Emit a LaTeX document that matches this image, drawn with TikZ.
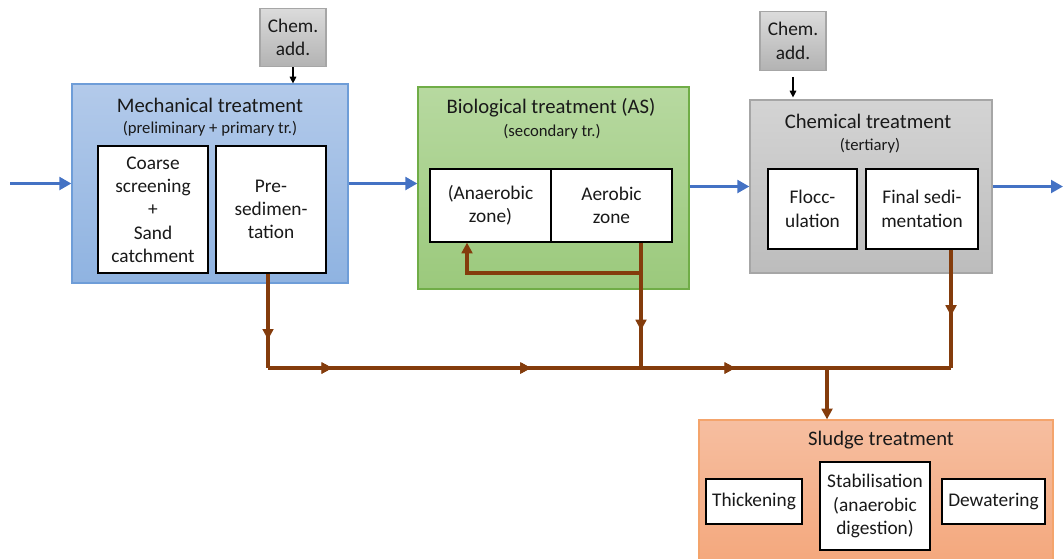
\documentclass[tikz,border=0pt]{standalone}
\usepackage{fontspec}
\setmainfont{Carlito}
\usetikzlibrary{arrows.meta,decorations.markings}

\definecolor{flowblue}{HTML}{4472C4}
\definecolor{sludgebrown}{HTML}{843C0C}
\definecolor{mechtop}{HTML}{B3CAEA}
\definecolor{mechbot}{HTML}{8FB3E1}
\definecolor{mechline}{HTML}{6E9DD8}

\begin{document}
\begin{tikzpicture}[
	x=0.75pt, y=-0.75pt,
	every node/.style={font=\fontsize{14.5}{17.5}\selectfont, text=black!90},
	stage/.style={draw, line width=0.9pt, inner sep=0pt},
	mechbox/.style={stage, draw=mechline, top color=mechtop, bottom color=mechbot},
	biobox/.style={stage, draw={rgb,255:red,112;green,173;blue,71}, top color={rgb,255:red,183;green,217;blue,160}, bottom color={rgb,255:red,155;green,201;blue,124}},
	chembox/.style={stage, draw=black!35, top color=black!17, bottom color=black!26},
	addbox/.style={stage, draw=black!35, top color=black!14, bottom color=black!30, align=center, minimum width=49.5pt, minimum height=44pt},
	sludgebox/.style={stage, draw={rgb,255:red,244;green,164;blue,108}, top color={rgb,255:red,246;green,190;blue,160}, bottom color={rgb,255:red,244;green,166;blue,122}},
	unit/.style={draw, line width=0.9pt, fill=white, align=center, inner sep=1pt},
	title/.style={font=\fontsize{15.5}{18}\selectfont},
	sub/.style={font=\fontsize{12.5}{15}\selectfont},
	flow/.style={draw=flowblue, line width=2.8pt, -{Triangle[length=9pt,width=9.5pt]}},
	dose/.style={draw=black, line width=0.8pt, -{Triangle[length=5pt,width=5pt]}},
	sludge/.style={draw=sludgebrown, line width=2.8pt},
	sludgeend/.style={sludge, -{Triangle[length=8pt,width=8pt]}},
	midtip/.style={postaction={decorate}, decoration={markings, mark=at position #1 with {\arrow{Triangle[length=8pt,width=8pt]}}}}
]
\useasboundingbox (0,0) rectangle (1063,558);

\node[mechbox, minimum width=207pt, minimum height=149.25pt] (mech) at (210,183.5) {};
\node[title] (mechtitle) at (210,105) {Mechanical treatment};
\node[sub] (mechsub) at (210,129) {(preliminary + primary tr.)};
\node[unit, minimum width=82.5pt, minimum height=95.25pt] (coarse) at (153,209.5) {Coarse\\screening\\+\\Sand\\catchment};
\node[unit, minimum width=82.5pt, minimum height=95.25pt] (presed) at (271,209.5) {Pre-\\sedimen-\\tation};
\node[addbox] (add1) at (293,37.5) {Chem.\\add.};

\node[biobox, minimum width=203.25pt, minimum height=151.5pt] (bio) at (553.5,188) {};
\node[title] (biotitle) at (551,108) {Biological treatment (AS)};
\node[sub] (biosub) at (552,132) {(secondary tr.)};
\node[unit, minimum width=90.75pt, minimum height=54.75pt] (anaer) at (490.5,205.5) {(Anaerobic\\zone)};
\node[unit, minimum width=90.75pt, minimum height=54.75pt] (aer) at (611.5,205.5) {Aerobic\\zone};

\node[chembox, minimum width=181.5pt, minimum height=129.75pt] (chem) at (871,186.5) {};
\node[title] (chemtitle) at (868,121) {Chemical treatment};
\node[sub] (chemsub) at (870,146) {(tertiary)};
\node[unit, minimum width=66.75pt, minimum height=60pt] (flocc) at (812.5,209) {Flocc-\\ulation};
\node[unit, minimum width=84pt, minimum height=60pt] (finsed) at (922,209) {Final sedi-\\mentation};
\node[addbox] (add2) at (793,41) {Chem.\\add.};

\node[sludgebox, minimum width=265.5pt, minimum height=116.25pt] (sludgetr) at (876,497.5) {};
\node[title] (sludgetitle) at (881,440) {Sludge treatment};
\node[unit, minimum width=72pt, minimum height=33.75pt] (thick) at (754,501.5) {Thickening};
\node[unit, minimum width=82.5pt, minimum height=66pt] (stab) at (875,506) {Stabilisation\\(anaerobic\\digestion)};
\node[unit, minimum width=77.25pt, minimum height=33.75pt] (dewat) at (993.5,501.5) {Dewatering};

\coordinate (inflow) at (10,183.5);
\coordinate (outflow) at (1063,186.5);
\coordinate (j1) at (268,368);
\coordinate (j2) at (641,368);
\coordinate (j3) at (827,368);
\coordinate (j4) at (951,368);
\coordinate (ret) at (641,273);
\coordinate (retin) at (467,273);

\draw[flow] (inflow) -- (mech.west);
\draw[flow] (mech.east) -- (mech.east -| bio.west);
\draw[flow] (bio.east |- chem.west) -- (chem.west);
\draw[flow] (chem.east) -- (outflow);

\draw[dose] (add1.south) -- (add1.south |- mech.north);
\draw[dose] ([yshift=-4.5pt]add2.south) -- ([yshift=1.5pt]add2.south |- chem.north);

\draw[sludge, midtip=0.7] (presed.south -| j1) -- (j1);
\draw[sludge, midtip=0.094, midtip=0.385, midtip=0.684] (j1) -- (j4);
\draw[sludge, midtip=0.7] (aer.south -| j2) -- (j2);
\draw[sludgeend] (ret) -- (retin) -- (retin |- anaer.south);
\draw[sludge, midtip=0.56] (finsed.south -| j4) -- (j4);
\draw[sludgeend] (j3) -- (j3 |- sludgetr.north);
\end{tikzpicture}
\end{document}
